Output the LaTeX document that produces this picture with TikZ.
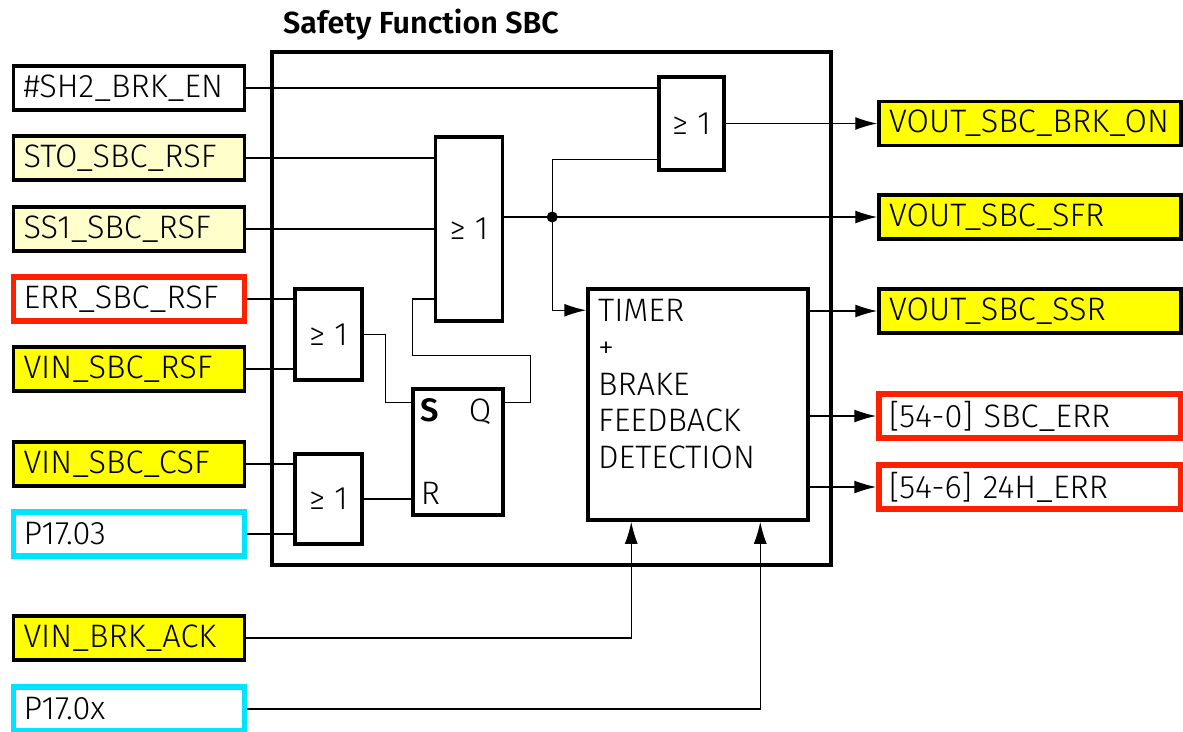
\documentclass[tikz,border=0pt]{standalone}
\usepackage{fontspec}
\setmainfont{Fira Sans Light}[BoldFont={Fira Sans SemiBold}]
\usetikzlibrary{arrows.meta}
\definecolor{sbcyellow}{HTML}{FFFF00}
\definecolor{sbcpale}{HTML}{FFFFCC}
\definecolor{sbcred}{HTML}{FF2000}
\definecolor{sbccyan}{HTML}{00E5FF}
\tikzset{
  sigbox/.style={draw,line width=3.5pt,minimum width=231pt,minimum height=44pt,
    text width=211pt,inner xsep=10pt,align=left},
  outbox/.style={sigbox,minimum width=302pt,text width=282pt},
  plain/.style={fill=white},
  pale/.style={fill=sbcpale},
  yel/.style={fill=sbcyellow},
  redline/.style={fill=white,draw=sbcred,line width=5.5pt},
  cyanline/.style={fill=white,draw=sbccyan,line width=5.5pt},
  gate/.style={draw,line width=3.5pt,fill=white},
  wire/.style={line width=1.4pt}
}

\begin{document}
\begin{tikzpicture}[x=1pt,y=-1pt,>={Latex[length=22pt,width=13pt]},font=\fontsize{32.5}{36.8}\selectfont]
\useasboundingbox (0,0) rectangle (1183,731);

% frame and title
\node[draw,line width=4pt,minimum width=559pt,minimum height=513pt] (sbc) at (551.5,308.5) {};
\node[anchor=base west,inner sep=0pt,font=\fontsize{30.5}{34}\selectfont\bfseries] (title) at (283,33.5) {Safety Function SBC};

% inputs
\foreach \nm/\yy/\look/\txt in {
  sh2/88/plain/{\#SH2\_BRK\_EN},
  sto/158/pale/{STO\_SBC\_RSF},
  ss1/229/pale/{SS1\_SBC\_RSF},
  err/299/redline/{ERR\_SBC\_RSF},
  vrsf/369/yel/{VIN\_SBC\_RSF},
  vcsf/464/yel/{VIN\_SBC\_CSF},
  p1703/534/cyanline/{P17.03},
  brkack/638/yel/{VIN\_BRK\_ACK},
  p170x/709/cyanline/{P17.0x}%
}{
  \node[sigbox,\look] (\nm) at (129,\yy) {\txt};
}

% outputs
\foreach \nm/\yy/\look/\txt in {
  brkon/123.5/yel/{VOUT\_SBC\_BRK\_ON},
  sfr/217/yel/{VOUT\_SBC\_SFR},
  ssr/311/yel/{VOUT\_SBC\_SSR},
  e540/416/redline/{[54-0] SBC\_ERR},
  e546/487/redline/{[54-6] 24H\_ERR}%
}{
  \node[outbox,\look] (\nm) at (1030,\yy) {\txt};
}

% logic
\node[gate,minimum width=65pt,minimum height=93pt] (gtop) at (691.5,123.5) {≥ 1};
\node[gate,minimum width=67pt,minimum height=184pt] (gbig) at (469,229) {≥ 1};
\node[gate,minimum width=67pt,minimum height=91pt] (gerr) at (328.5,334.5) {≥ 1};
\node[gate,minimum width=67pt,minimum height=90pt] (gcsf) at (328.5,499) {≥ 1};
\node[gate,minimum width=90pt,minimum height=126pt] (sr) at (458,452) {};
\node[anchor=base,inner sep=0pt,font=\fontsize{32.5}{36.8}\selectfont\bfseries] (lbls) at (430,421.5) {S};
\node[anchor=base,inner sep=0pt] (lblq) at (480,421.5) {Q};
\node[anchor=base,inner sep=0pt] (lblr) at (430.5,504) {R};
\node[gate,minimum width=220pt,minimum height=231pt] (timer) at (698,404.5) {};
\node[anchor=north west,align=left,inner sep=0pt] (ttext) at (598,299) {TIMER\\+\\BRAKE\\FEEDBACK\\DETECTION};

% wires
\draw[wire] (sh2.east) -- (sh2.east -| gtop.west);
\draw[wire] (sto.east) -- (sto.east -| gbig.west);
\draw[wire] (ss1.east) -- (ss1.east -| gbig.west);
\draw[wire] (err.east) -- (err.east -| gerr.west);
\draw[wire] (vrsf.east) -- (vrsf.east -| gerr.west);
\draw[wire] (vcsf.east) -- (vcsf.east -| gcsf.west);
\draw[wire] (p1703.east) -- (p1703.east -| gcsf.west);
\draw[wire] (gerr.east) -- ++(22,0) |- ([yshift=-15pt]sr.north west);
\draw[wire] (gcsf.east) -- (gcsf.east -| sr.west);
\draw[wire] ([yshift=-15pt]sr.north east) -- ++(26,0) -- ++(0,-47) -- ++(-118,0) |- (err.east -| gbig.west);
\path (gbig.east |- sfr.west) ++(48,0) coordinate (jn);
\draw[wire,->] (gbig.east |- sfr.west) -- (sfr.west);
\fill (jn) circle (5.5pt);
\draw[wire] (jn) |- ([yshift=12pt]gtop.south west);
\draw[wire,->] (jn) |- ([yshift=-23pt]timer.north west);
\draw[wire,->] (gtop.east) -- (gtop.east -| brkon.west);
\draw[wire,->] (timer.east |- ssr.west) -- (ssr.west);
\draw[wire,->] (timer.east |- e540.west) -- (e540.west);
\draw[wire,->] (timer.east |- e546.west) -- (e546.west);
\draw[wire,->] (brkack.east) -| ([xshift=45pt]timer.south west);
\draw[wire,->] (p170x.east) -| ([xshift=174pt]timer.south west);
\end{tikzpicture}
\end{document}
